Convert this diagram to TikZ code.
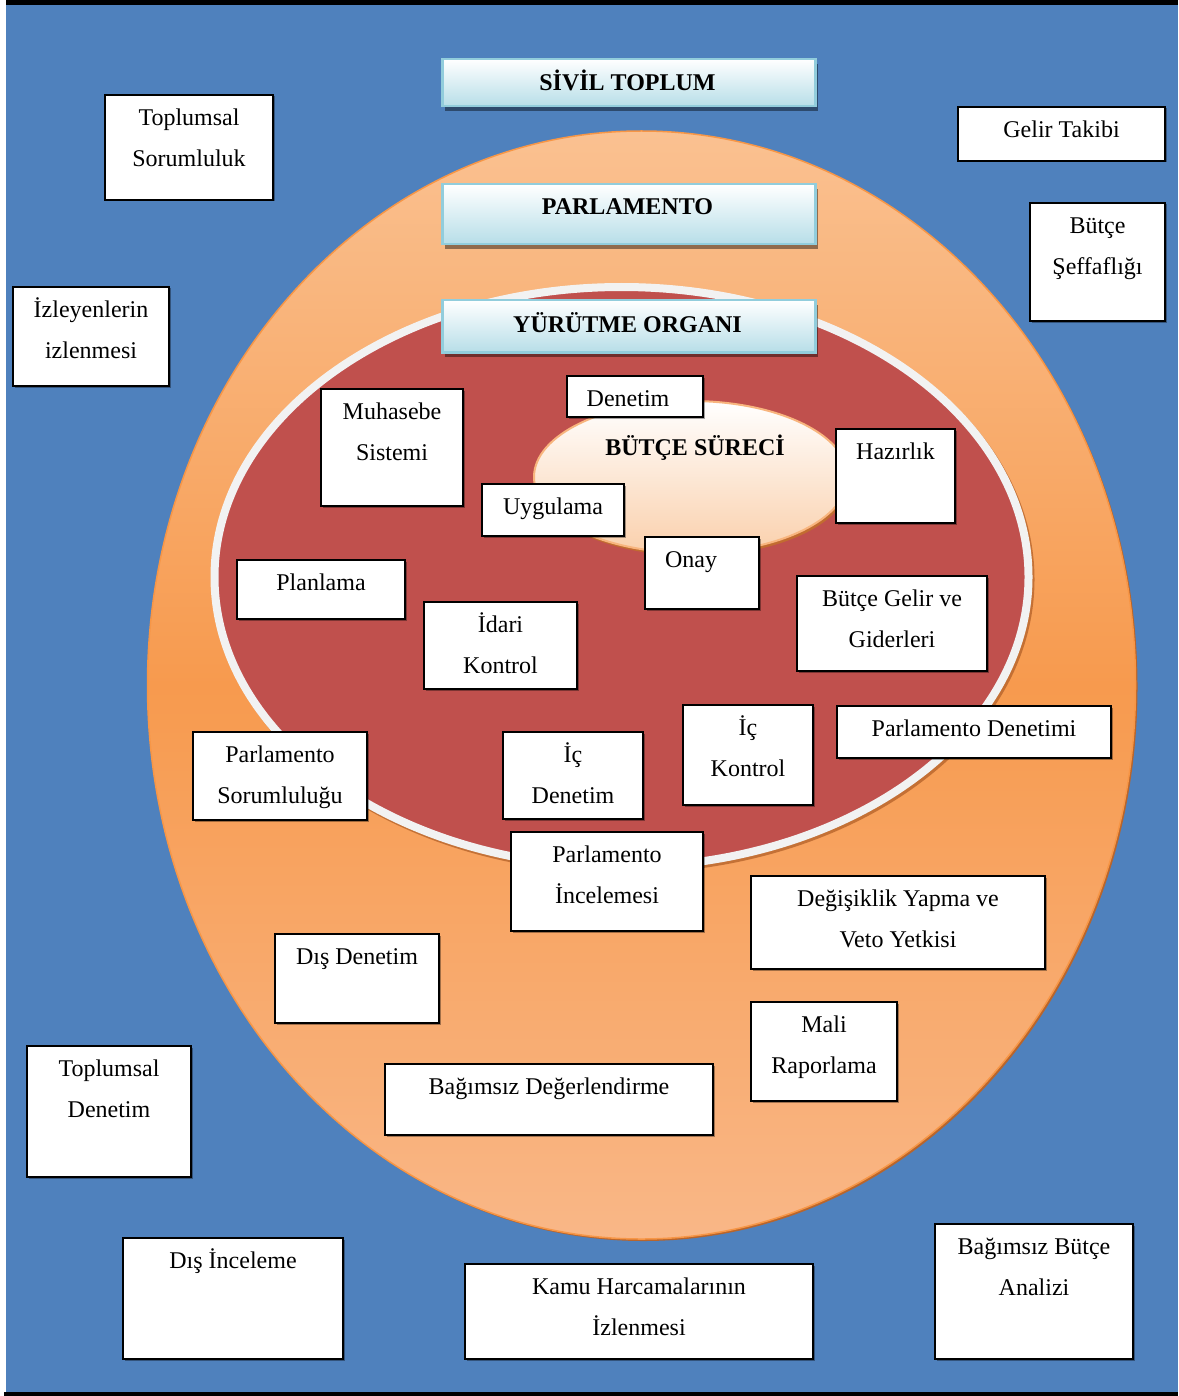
\documentclass[tikz,border=0pt]{standalone}
\usepackage{fontspec}
\setmainfont{Liberation Serif}
\usetikzlibrary{shadows}
\definecolor{bgblue}{HTML}{4F81BD}
\definecolor{peachT}{HTML}{FAC191}
\definecolor{orangeM}{HTML}{F79A4E}
\definecolor{peachB}{HTML}{F9B787}
\definecolor{orangeLine}{HTML}{F79646}
\definecolor{brownShadow}{HTML}{B8652C}
\definecolor{innerRed}{HTML}{C0504D}
\definecolor{rimGray}{HTML}{F2F2F2}
\definecolor{smallBot}{HTML}{FAD0AC}
\definecolor{smallLine}{HTML}{F8B57E}
\definecolor{bannerBlue}{HTML}{B7DEE8}
\definecolor{bannerLine}{HTML}{92CDDC}
\pgfdeclareverticalshading{outershade}{100bp}{color(0bp)=(peachB); color(25bp)=(peachB); color(50bp)=(orangeM); color(75bp)=(peachT); color(100bp)=(peachT)}
\tikzset{
  wbox/.style={draw=black, fill=white, line width=2pt, inner sep=0pt,
    drop shadow={shadow xshift=1.5pt, shadow yshift=-1.5pt, fill=black, opacity=.35}},
  txt/.style={font=\fontsize{24}{41.5}\selectfont, align=center, inner sep=0pt},
  banner/.style={draw=bannerLine, line width=2.5pt, top color=white, bottom color=bannerBlue,
    inner sep=0pt, drop shadow={shadow xshift=3pt, shadow yshift=-5pt, fill=black, opacity=.42}},
  btxt/.style={font=\fontsize{24}{29}\selectfont\bfseries, inner sep=0pt}
}
\newcommand\bx[7]{%
  \node[wbox, anchor=north west, minimum width={(#4-#2-2)*1pt}, minimum height={(#5-#3-2)*1pt}] (#1) at (#2+1,#3+1) {};
  \node[txt, anchor=north] (#1-t) at ([xshift=#6pt, yshift=-8pt]#1.north) {\rule{0pt}{23pt}#7};
}
\newcommand\bn[7]{%
  \node[banner, anchor=north west, minimum width={(#4-#2-2)*1pt}, minimum height={(#5-#3-2)*1pt}] (#1) at (#2+1,#3+1) {};
  \node[btxt, anchor=base] (#1-t) at (627.5,#6) {#7};
}
\begin{document}
\begin{tikzpicture}[x=1pt,y=-1pt]
\useasboundingbox (0,0) rectangle (1178,1396);
% background
\fill[white] (0,0) rectangle (1178,1396);
\fill[bgblue] (6,5) rectangle (1178,1392);
\fill[black] (6,0) rectangle (1178,5);
\fill[black] (4,1392) rectangle (1178,1396);
% outer ellipse
\fill[brownShadow] (643.5,687) ellipse [x radius=494, y radius=554];
\path[shading=outershade, draw=orangeLine, line width=1.5pt] (641.5,685) ellipse [x radius=494, y radius=554];
% inner ellipse
\draw[brownShadow, line width=8pt, opacity=.8] (623.5,579.5) ellipse [x radius=407, y radius=290];
\draw[fill=innerRed, draw=rimGray, line width=8pt] (621.5,577) ellipse [x radius=407, y radius=290];
% small ellipse
\fill[brownShadow!85!orangeLine] (693,480) ellipse [x radius=157, y radius=76];
\path[top color=white, bottom color=smallBot, draw=smallLine, line width=2pt] (691,477) ellipse [x radius=157, y radius=76];
\node[btxt, anchor=base] (surec) at (695,455) {BÜTÇE SÜRECİ};
% banners
\bn{sivil}{440}{57}{815}{106}{91}{SİVİL TOPLUM}
\bn{parl}{440}{182}{815}{244}{215}{PARLAMENTO}
\bn{yurut}{440}{298}{815}{352}{332}{YÜRÜTME ORGANI}
% boxes
\bx{toplsor}{103}{93}{273}{200}{0}{Toplumsal\\Sorumluluk}
\bx{gelir}{956}{105}{1165}{161}{0}{Gelir Takibi}
\bx{seffaf}{1028}{201}{1165}{321}{0}{Bütçe\\Şeffaflığı}
\bx{izley}{11}{285}{169}{386}{0}{İzleyenlerin\\izlenmesi}
\bx{muhas}{319}{387}{463}{506}{0}{Muhasebe\\Sistemi}
\bx{denet}{565}{374}{703}{417}{-7}{Denetim}
\bx{hazir}{834}{427}{955}{523}{0}{Hazırlık}
\bx{uygul}{480}{482}{624}{536}{0}{Uygulama}
\bx{onay}{643}{535}{759}{609}{-11}{Onay}
\bx{plan}{235}{558}{405}{619}{0}{Planlama}
\bx{idari}{422}{600}{577}{689}{0}{İdari\\Kontrol}
\bx{gelgid}{795}{574}{987}{671}{0}{Bütçe Gelir ve\\Giderleri}
\bx{ickon}{681}{703}{813}{805}{0}{İç\\Kontrol}
\bx{parden}{835}{704}{1111}{758}{0}{Parlamento Denetimi}
\bx{parsor}{191}{730}{367}{820}{0}{Parlamento\\Sorumluluğu}
\bx{icden}{501}{730}{643}{819}{0}{İç\\Denetim}
\bx{parinc}{509}{830}{703}{931}{0}{Parlamento\\İncelemesi}
\bx{degis}{749}{874}{1045}{969}{0}{Değişiklik Yapma ve\\Veto Yetkisi}
\bx{disden}{273}{932}{439}{1023}{0}{Dış Denetim}
\bx{mali}{749}{1000}{897}{1101}{0}{Mali\\Raporlama}
\bx{topden}{25}{1044}{191}{1177}{0}{Toplumsal\\Denetim}
\bx{bagdeg}{383}{1062}{713}{1135}{0}{Bağımsız Değerlendirme}
\bx{disinc}{121}{1236}{343}{1359}{0}{Dış İnceleme}
\bx{kamu}{463}{1262}{813}{1359}{0}{Kamu Harcamalarının\\İzlenmesi}
\bx{bagbut}{933}{1222}{1133}{1359}{0}{Bağımsız Bütçe\\Analizi}
\end{tikzpicture}
\end{document}
